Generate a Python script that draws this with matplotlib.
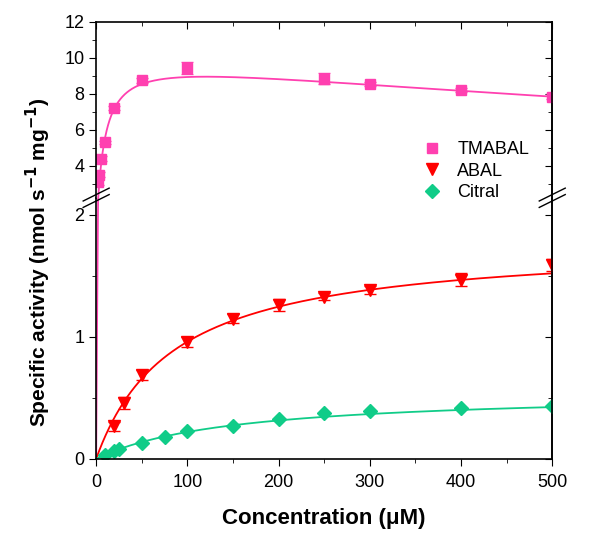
import numpy as np
import matplotlib
matplotlib.use("Agg")
import matplotlib.pyplot as plt
from matplotlib.ticker import MultipleLocator

plt.rcParams['font.family'] = ['Liberation Sans', 'DejaVu Sans']

# measured points
tmabal_x = [2, 3, 5, 10, 20, 50, 100, 250, 300, 400, 500]
tmabal_y = [3.1, 3.5, 4.4, 5.3, 7.2, 8.75, 9.45, 8.85, 8.55, 8.2, 7.85]
tmabal_err = [0.15, 0.15, 0.15, 0.1, 0.1, 0.12, 0.35, 0.3, 0.12, 0.12, 0.12]

abal_x = [20, 30, 50, 100, 150, 200, 250, 300, 400, 500]
abal_y = [0.265, 0.46, 0.69, 0.96, 1.15, 1.26, 1.33, 1.385, 1.47, 1.59]
abal_err = [0.04, 0.05, 0.04, 0.04, 0.04, 0.05, 0.03, 0.03, 0.05, 0.05]

citral_x = [10, 20, 25, 50, 75, 100, 150, 200, 250, 300, 400, 500]
citral_y = [0.03, 0.06, 0.08, 0.128, 0.175, 0.224, 0.27, 0.325, 0.375, 0.393, 0.42, 0.434]

# fitted parameters (substrate inhibition / Michaelis-Menten)
tm_vmax, tm_km, tm_ki = 10.15, 8.0, 1800.0
ab_vmax, ab_km = 1.78, 85.4
ci_vmax, ci_km = 0.552, 150.9

pink = '#FF40B0'
red = '#FF0000'
green = '#10CC88'

s = np.linspace(0, 500, 2001)
tm_fit = tm_vmax * s / (tm_km + s + s**2 / tm_ki)
ab_fit = ab_vmax * s / (ab_km + s)
ci_fit = ci_vmax * s / (ci_km + s)

fig = plt.figure(figsize=(5.9, 5.36), dpi=100)
left, right = 0.163, 0.936
ax_bot = fig.add_axes([left, 0.144, right - left, 0.487])
ax_top = fig.add_axes([left, 0.631, right - left, 0.328])

handles = []
for ax in (ax_top, ax_bot):
    ax.plot(s, tm_fit, color=pink, lw=1.3)
    ax.errorbar(tmabal_x, tmabal_y, yerr=tmabal_err, fmt='none', ecolor=pink,
                capsize=4, elinewidth=1)
    h1, = ax.plot(tmabal_x, tmabal_y, 's', color=pink, ms=7, label='TMABAL')
    ax.plot(s, ab_fit, color=red, lw=1.3)
    ax.errorbar(abal_x, abal_y, yerr=abal_err, fmt='none', ecolor=red,
                capsize=4, elinewidth=1)
    h2, = ax.plot(abal_x, abal_y, 'v', color=red, ms=9, label='ABAL')
    ax.plot(s, ci_fit, color=green, lw=1.3)
    h3, = ax.plot(citral_x, citral_y, 'D', color=green, ms=7, label='Citral')
    handles = [h1, h2, h3]
    ax.set_xlim(0, 500)
    ax.xaxis.set_major_locator(MultipleLocator(100))
    ax.xaxis.set_minor_locator(MultipleLocator(50))
    for sp in ax.spines.values():
        sp.set_linewidth(1.2)

ax_bot.set_ylim(0, 2.14)
ax_bot.yaxis.set_major_locator(MultipleLocator(1))
ax_bot.yaxis.set_minor_locator(MultipleLocator(0.5))
ax_bot.spines['top'].set_visible(False)
ax_bot.tick_params(axis='both', which='both', direction='out', top=False, right=False,
                   labelsize=13)
ax_bot.tick_params(axis='x', pad=6)
ax_bot.tick_params(which='major', length=5)
ax_bot.tick_params(which='minor', length=3)
ax_bot.set_xlabel('Concentration (\u03bcM)', fontsize=16, fontweight='bold', labelpad=12)

# mirrored right ticks inward on bottom panel
ax_r = ax_bot.secondary_yaxis('right')
ax_r.yaxis.set_major_locator(MultipleLocator(1))
ax_r.yaxis.set_minor_locator(MultipleLocator(0.5))
ax_r.tick_params(which='both', direction='in', labelright=False)
ax_r.tick_params(which='major', length=5)
ax_r.tick_params(which='minor', length=3)
ax_r.spines['right'].set_linewidth(1.2)

ax_top.set_ylim(2.22, 12)
ax_top.set_yticks([4, 6, 8, 10, 12])
ax_top.yaxis.set_minor_locator(MultipleLocator(1))
ax_top.spines['bottom'].set_visible(False)
ax_top.tick_params(axis='x', which='both', direction='in', bottom=False, top=True,
                   labelbottom=False)
ax_top.tick_params(axis='y', which='both', direction='out', right=False, labelsize=13)
ax_top.tick_params(which='major', length=5)
ax_top.tick_params(which='minor', length=3)
ax_tr = ax_top.secondary_yaxis('right')
ax_tr.set_yticks([4, 6, 8, 10, 12])
ax_tr.yaxis.set_minor_locator(MultipleLocator(1))
ax_tr.tick_params(which='both', direction='in', labelright=False)
ax_tr.tick_params(which='major', length=5)
ax_tr.tick_params(which='minor', length=3)
ax_tr.spines['right'].set_linewidth(1.2)

ax_top.legend(handles=handles, loc='center left', bbox_to_anchor=(423 / 590, 1 - 171 / 536),
              bbox_transform=fig.transFigure, frameon=False, fontsize=13, borderpad=0,
              borderaxespad=0, handletextpad=0.9, labelspacing=0.25, handlelength=1.0)

# break marks on both sides
for xa in (0.0, 1.0):
    for dy in (-0.006, 0.006):
        fig.lines.append(plt.Line2D([left + (right - left) * xa - 0.022, left + (right - left) * xa + 0.022],
                                    [0.631 + dy - 0.012, 0.631 + dy + 0.012],
                                    transform=fig.transFigure, color='black', lw=1))

fig.text(0.065, 0.511, 'Specific activity (nmol s$^{\\mathbf{-1}}$ mg$^{\\mathbf{-1}}$)', rotation=90,
         ha='center', va='center', fontsize=15, fontweight='bold')

fig.savefig('out.png', dpi=100)
